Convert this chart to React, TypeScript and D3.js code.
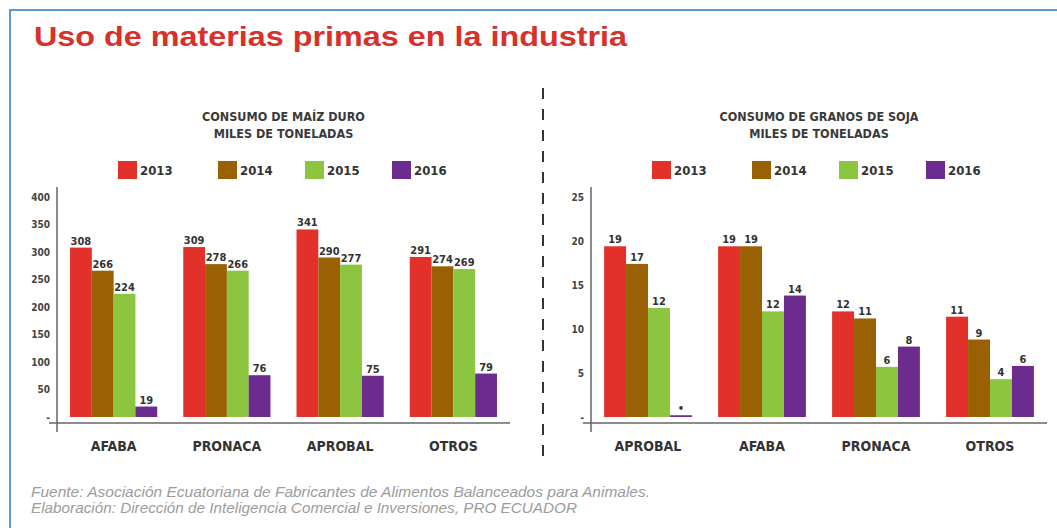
import React, { useRef, useEffect } from 'react'
import * as d3 from 'd3'

// dane
const years = ['2013', '2014', '2015', '2016']
const colors = ['#e2312a', '#9a6004', '#8cc53f', '#6b2b8f']

const maizCategories = ['AFABA', 'PRONACA', 'APROBAL', 'OTROS']
const maiz2013 = [308, 309, 341, 291]
const maiz2014 = [266, 278, 290, 274]
const maiz2015 = [224, 266, 277, 269]
const maiz2016 = [19, 76, 75, 79]
const maizTicks = [0, 50, 100, 150, 200, 250, 300, 350, 400]

const sojaCategories = ['APROBAL', 'AFABA', 'PRONACA', 'OTROS']
const soja2013 = [19.4, 19.4, 12.0, 11.4]
const soja2014 = [17.4, 19.4, 11.2, 8.8]
const soja2015 = [12.4, 12.0, 5.7, 4.3]
const soja2016 = [0.2, 13.8, 8.0, 5.8]
const sojaTicks = [0, 5, 10, 15, 20, 25]

const title = 'Uso de materias primas en la industria'
const maizTitle = ['CONSUMO DE MAÍZ DURO', 'MILES DE TONELADAS']
const sojaTitle = ['CONSUMO DE GRANOS DE SOJA', 'MILES DE TONELADAS']
const footer = [
	'Fuente: Asociación Ecuatoriana de Fabricantes de Alimentos Balanceados para Animales.',
	'Elaboración: Dirección de Inteligencia Comercial e Inversiones, PRO ECUADOR',
]

const COND = '"DejaVu Sans Condensed", "DejaVu Sans", sans-serif'
const SANS = '"Liberation Sans", Arial, sans-serif'
const legendOffsets = [61, 161, 248, 335]
const footerWidths = [619, 546]

const App = () => {
	const svgRef = useRef<SVGSVGElement>(null)

	useEffect(() => {
		const svg = d3.select(svgRef.current)
		svg.selectAll('*').remove()

		const width = 1057
		const height = 528
		svg.attr('width', width).attr('height', height)

		// ramka
		svg
			.append('rect')
			.attr('x', 10)
			.attr('y', 10)
			.attr('width', 1100)
			.attr('height', 600)
			.attr('fill', 'white')
			.attr('stroke', '#5b9bd5')
			.attr('stroke-width', 2)

		svg
			.append('text')
			.attr('x', 34)
			.attr('y', 46)
			.attr('font-family', SANS)
			.attr('font-weight', 'bold')
			.attr('font-size', 28.5)
			.attr('fill', '#d8302b')
			.attr('textLength', 593)
			.attr('lengthAdjust', 'spacingAndGlyphs')
			.text(title)

		// przerywana linia
		svg
			.append('line')
			.attr('x1', 543)
			.attr('x2', 543)
			.attr('y1', 88)
			.attr('y2', 462)
			.attr('stroke', '#333')
			.attr('stroke-width', 2)
			.attr('stroke-dasharray', '11,10')

		const drawChart = (
			x0: number,
			x1: number,
			categories: string[],
			series: number[][],
			ticks: number[],
			heading: string[]
		) => {
			const g = svg.append('g')
			const xScale = d3.scaleBand().domain(categories).range([x0, x1]).paddingInner(0.23).paddingOuter(0.115)
			const xSub = d3.scaleBand().domain(years).range([0, xScale.bandwidth()])
			const yScale = d3
				.scaleLinear()
				.domain([0, ticks[ticks.length - 1]])
				.range([417, 197])

			const cx = (x0 + x1) / 2
			heading.forEach((t, i) => {
				g.append('text')
					.attr('x', cx)
					.attr('y', 121 + i * 17)
					.attr('text-anchor', 'middle')
					.attr('font-family', COND)
					.attr('font-weight', 'bold')
					.attr('font-size', 12.5)
					.attr('fill', '#3a3a3a')
					.text(t)
			})

			// legenda
			years.forEach((y, i) => {
				const lx = x0 + legendOffsets[i]
				g.append('rect').attr('x', lx).attr('y', 161).attr('width', 19).attr('height', 18).attr('fill', colors[i])
				g.append('text')
					.attr('x', lx + 22)
					.attr('y', 175)
					.attr('font-family', COND)
					.attr('font-weight', 'bold')
					.attr('font-size', 13)
					.attr('fill', '#333')
					.text(y)
			})

			// oś Y
			const yAxis = d3
				.axisLeft(yScale)
				.tickValues(ticks)
				.tickSize(0)
				.tickPadding(0)
				.tickFormat(d => (+d === 0 ? '-' : String(d)))
			const ya = g.append('g').attr('transform', `translate(${x0 - 7}, 0)`).call(yAxis)
			ya.select('.domain').remove()
			ya.selectAll('text')
				.attr('font-family', COND)
				.attr('font-weight', 'bold')
				.attr('font-size', 10)
				.attr('fill', '#444')

			// słupki
			categories.forEach((c, ci) => {
				series.forEach((s, si) => {
					const v = s[ci]
					const bx = (xScale(c) as number) + (xSub(years[si]) as number)
					g.append('rect')
						.attr('x', bx)
						.attr('y', yScale(v))
						.attr('width', xSub.bandwidth())
						.attr('height', Math.max(yScale(0) - yScale(v), 1.5))
						.attr('fill', colors[si])
					g.append('text')
						.attr('x', bx + xSub.bandwidth() / 2)
						.attr('y', yScale(v) - 3)
						.attr('text-anchor', 'middle')
						.attr('font-family', COND)
						.attr('font-weight', 'bold')
						.attr('font-size', 11)
						.attr('fill', '#333')
						.text(Math.round(v) === 0 ? '•' : d3.format('.0f')(v))
				})
				g.append('text')
					.attr('x', (xScale(c) as number) + xScale.bandwidth() / 2)
					.attr('y', 451)
					.attr('text-anchor', 'middle')
					.attr('font-family', COND)
					.attr('font-weight', 'bold')
					.attr('font-size', 14)
					.attr('fill', '#333')
					.text(c)
			})

			// osie
			g.append('line')
				.attr('x1', x0)
				.attr('x2', x0)
				.attr('y1', 187)
				.attr('y2', 432)
				.attr('stroke', '#666')
				.attr('stroke-width', 1.5)
			g.append('line')
				.attr('x1', x0 - 8)
				.attr('x2', x1)
				.attr('y1', 423)
				.attr('y2', 423)
				.attr('stroke', '#666')
				.attr('stroke-width', 1.5)
		}

		drawChart(57, 510, maizCategories, [maiz2013, maiz2014, maiz2015, maiz2016], maizTicks, maizTitle)
		drawChart(591, 1047, sojaCategories, [soja2013, soja2014, soja2015, soja2016], sojaTicks, sojaTitle)

		footer.forEach((t, i) => {
			svg
				.append('text')
				.attr('x', 31)
				.attr('y', 497 + i * 16)
				.attr('font-family', SANS)
				.attr('font-style', 'italic')
				.attr('font-size', 14)
				.attr('fill', '#9c9c9c')
				.attr('textLength', footerWidths[i])
				.attr('lengthAdjust', 'spacingAndGlyphs')
				.text(t)
		})
	}, [])

	return <svg ref={svgRef} style={{ position: 'absolute', left: 0, top: 0 }}></svg>
}

export default App
